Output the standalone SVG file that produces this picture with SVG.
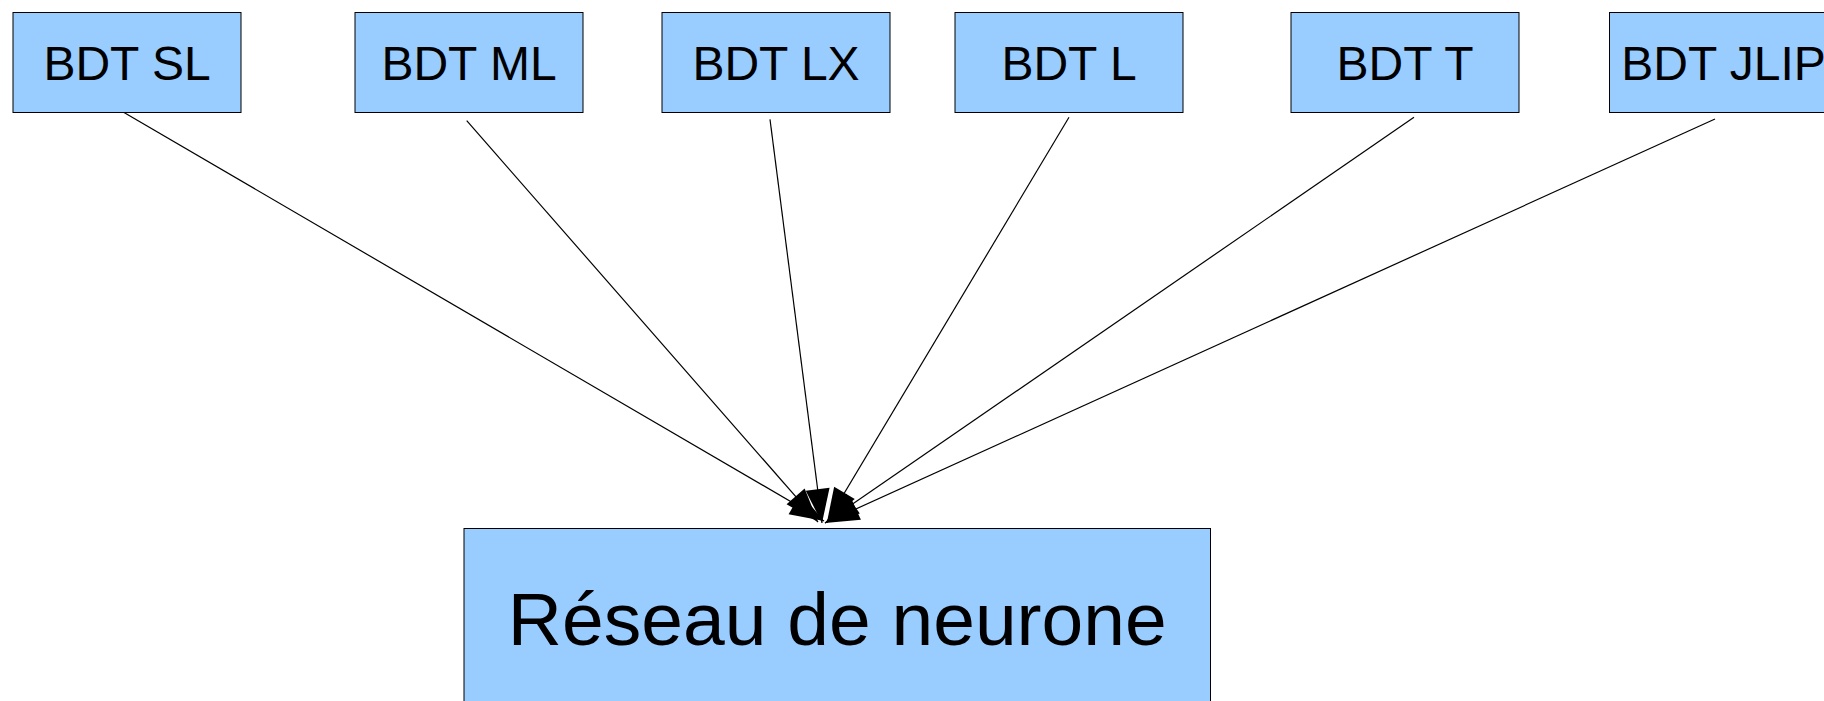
<svg xmlns="http://www.w3.org/2000/svg" width="1824" height="701" viewBox="0 0 1824 701">
<style>
.box{fill:#99ccff;stroke:#000;stroke-width:1}
.lbl{font-family:"Liberation Sans",Arial,sans-serif;font-size:48px;fill:#000;text-anchor:middle}
.big{font-family:"Liberation Sans",Arial,sans-serif;font-size:75px;fill:#000;text-anchor:middle}
.conn{stroke:#000;stroke-width:1.2;fill:none;marker-end:url(#arr)}
</style>
<defs>
<marker id="arr" markerUnits="userSpaceOnUse" markerWidth="38" markerHeight="28" viewBox="-36 -13 38 26" refX="0" refY="0" orient="auto">
<path d="M0,0 L-34,-12 L-34,12 Z" fill="#000"/>
</marker>
</defs>
<rect width="1824" height="701" fill="#fff"/>
<g id="connectors">
<line class="conn" x1="124" y1="112.5" x2="824" y2="521"/>
<line class="conn" x1="466.7" y1="120.7" x2="818" y2="522"/>
<line class="conn" x1="770" y1="119.3" x2="822" y2="523"/>
<line class="conn" x1="1069" y1="117.3" x2="827" y2="522"/>
<line class="conn" x1="1414" y1="117.3" x2="825" y2="523"/>
<line class="conn" x1="1715" y1="119" x2="825" y2="523"/>
</g>
<g id="node-sl"><rect class="box" x="13" y="12.5" width="228" height="100"/><text class="lbl" x="127" y="79.5">BDT SL</text></g>
<g id="node-ml"><rect class="box" x="355" y="12.5" width="228" height="100"/><text class="lbl" x="469" y="79.5">BDT ML</text></g>
<g id="node-lx"><rect class="box" x="662" y="12.5" width="228" height="100"/><text class="lbl" x="776" y="79.5">BDT LX</text></g>
<g id="node-l"><rect class="box" x="955" y="12.5" width="228" height="100"/><text class="lbl" x="1069" y="79.5">BDT L</text></g>
<g id="node-t"><rect class="box" x="1291" y="12.5" width="228" height="100"/><text class="lbl" x="1405" y="79.5">BDT T</text></g>
<g id="node-jlip"><rect class="box" x="1609.5" y="12.5" width="228" height="100"/><text class="lbl" x="1723.5" y="79.5">BDT JLIP</text></g>
<g id="node-reseau"><rect class="box" x="464" y="528.5" width="746.5" height="185"/><text class="big" x="837.3" y="644.5">Réseau de neurone</text></g>
</svg>
